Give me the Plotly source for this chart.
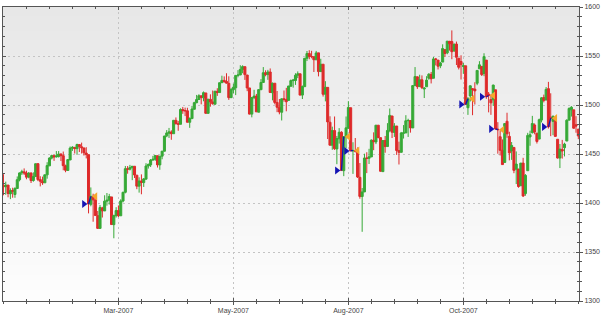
import plotly.graph_objects as go

# ---------------- data (S&P-style daily bars, one per trading day) ----------------
tick_positions = [50, 100, 150, 200]
tick_labels = ["Mar-2007", "May-2007", "Aug-2007", "Oct-2007"]

opens = [
    # Jan
    1418.0, 1416.6, 1418.3, 1409.3, 1412.8, 1408.7, 1414.8, 1423.8, 1430.7, 1431.8,
    1430.6, 1426.4, 1430.5, 1422.95, 1427.0, 1440.1, 1423.9, 1422.0, 1420.6, 1428.7,
    # Feb
    1437.9, 1445.9, 1448.3, 1447.0, 1447.4, 1449.99, 1448.3, 1438.0, 1433.2, 1443.9,
    1455.99, 1456.8, 1455.5, 1459.6, 1457.3, 1456.2, 1451.0, 1449.3, 1398.6,
    # Mar
    1406.8, 1403.2, 1387.1, 1374.1, 1395.0, 1391.9, 1401.9, 1402.8, 1406.2, 1377.9,
    1387.1, 1392.3, 1386.95, 1402.0, 1410.9, 1435.0, 1434.5, 1436.1, 1437.5, 1428.4,
    1417.2, 1422.5,
    # Apr
    1420.8, 1424.3, 1437.75, 1438.9, 1443.8, 1444.6, 1448.2, 1438.9, 1447.8, 1452.8,
    1468.5, 1471.3, 1472.5, 1470.7, 1484.3, 1480.9, 1480.3, 1495.3, 1494.2, 1494.1,
    # May
    1482.4, 1486.1, 1495.6, 1502.35, 1505.6, 1509.4, 1507.3, 1512.3, 1491.5, 1505.8,
    1503.1, 1500.8, 1514.0, 1512.7, 1522.75, 1525.1, 1524.1, 1522.1, 1507.5, 1515.55,
    1517.6, 1530.2,
    # Jun
    1530.6, 1536.3, 1539.1, 1530.6, 1517.4, 1490.7, 1507.6, 1509.1, 1492.65, 1515.6,
    1522.97, 1532.9, 1531.0, 1533.7, 1512.5, 1522.2, 1502.6, 1497.7, 1492.6, 1506.3,
    1505.7,
    # Jul
    1504.7, 1519.1, 1524.9, 1524.96, 1530.4, 1531.85, 1510.1, 1518.7, 1547.7, 1552.5,
    1549.5, 1549.2, 1546.1, 1553.2, 1534.1, 1541.6, 1511.0, 1518.0, 1482.4, 1458.9,
    1473.9,
    # Aug
    1455.2, 1465.5, 1472.2, 1433.0, 1467.6, 1476.2, 1497.2, 1453.1, 1453.4, 1452.9,
    1426.2, 1406.6, 1411.3, 1445.9, 1445.6, 1447.0, 1464.05, 1462.3, 1479.4, 1466.7,
    1432.0, 1463.7, 1457.6,
    # Sep
    1473.96, 1488.8, 1472.0, 1478.55, 1453.5, 1451.7, 1471.1, 1471.5, 1483.95, 1484.2,
    1476.6, 1519.75, 1528.7, 1518.75, 1525.75, 1516.3, 1518.6, 1527.3, 1531.2,
    # Oct
    1527.3, 1546.96, 1545.8, 1539.9, 1543.8, 1556.5, 1553.2, 1564.98, 1564.7, 1555.4,
    1562.25, 1547.8, 1544.4, 1539.3, 1540.0, 1497.2, 1509.3, 1516.6, 1516.2, 1522.2,
    1536.9, 1539.4, 1532.2,
    # Nov
    1545.8, 1511.1, 1505.6, 1505.3, 1515.5, 1475.3, 1467.6, 1453.7, 1441.4, 1483.4,
    1468.0, 1453.1, 1456.7, 1434.5, 1434.7, 1417.6, 1440.7, 1409.6, 1432.95, 1467.4,
    1471.8,
    # Dec
    1479.6, 1471.3, 1465.2, 1484.6, 1507.6, 1505.1, 1516.7, 1487.6, 1483.3, 1486.2,
    1465.05, 1445.9, 1454.7, 1456.4, 1463.2, 1484.55, 1495.1, 1495.05, 1479.8, 1475.25,
]

highs = [
    # Jan
    1429.4, 1421.8, 1418.3, 1414.98, 1415.6, 1415.99, 1427.1, 1431.2, 1433.9, 1435.3,
    1432.96, 1431.6, 1431.4, 1431.3, 1440.1, 1440.7, 1427.3, 1426.9, 1428.8, 1441.6,
    # Feb
    1446.6, 1449.3, 1449.4, 1452.99, 1452.99, 1450.5, 1452.5, 1439.1, 1444.4, 1457.7,
    1457.97, 1456.8, 1460.5, 1459.6, 1461.6, 1456.2, 1456.95, 1449.3, 1415.9,
    # Mar
    1409.5, 1403.4, 1391.9, 1397.9, 1396.1, 1407.9, 1410.2, 1409.3, 1406.2, 1388.1,
    1395.7, 1397.5, 1403.8, 1411.5, 1437.8, 1437.7, 1438.9, 1437.7, 1437.5, 1428.4,
    1426.2, 1429.2,
    # Apr
    1425.5, 1440.6, 1440.2, 1444.9, 1448.1, 1448.7, 1448.4, 1448.0, 1453.1, 1468.6,
    1474.4, 1476.6, 1474.2, 1484.7, 1487.3, 1483.8, 1496.6, 1498.0, 1497.3, 1497.2,
    # May
    1487.3, 1499.1, 1503.3, 1510.3, 1511.0, 1509.4, 1513.8, 1512.3, 1506.2, 1510.9,
    1514.8, 1514.15, 1517.1, 1522.75, 1529.9, 1529.2, 1532.4, 1529.3, 1517.4, 1521.8,
    1530.2, 1535.6,
    # Jun
    1540.6, 1540.5, 1539.1, 1530.6, 1517.4, 1507.8, 1515.5, 1511.3, 1515.7, 1526.45,
    1538.7, 1535.4, 1535.85, 1537.3, 1522.9, 1522.2, 1514.3, 1506.1, 1506.8, 1514.8,
    1517.5,
    # Jul
    1519.45, 1526.0, 1526.6, 1532.4, 1534.3, 1531.85, 1519.9, 1547.9, 1555.1, 1555.9,
    1555.3, 1549.2, 1555.2, 1553.2, 1547.2, 1541.6, 1524.3, 1518.0, 1488.5, 1477.9,
    1488.3,
    # Aug
    1468.4, 1476.4, 1473.2, 1467.7, 1488.3, 1503.9, 1497.2, 1462.0, 1466.3, 1456.7,
    1440.8, 1415.3, 1450.3, 1451.8, 1455.3, 1464.9, 1472.1, 1479.4, 1479.4, 1466.7,
    1463.8, 1468.4, 1481.5,
    # Sep
    1496.4, 1488.8, 1481.5, 1478.55, 1462.6, 1472.5, 1479.5, 1489.6, 1485.99, 1484.2,
    1519.9, 1538.7, 1529.1, 1530.9, 1530.2, 1518.3, 1529.4, 1532.5, 1533.7,
    # Oct
    1549.0, 1548.0, 1545.8, 1544.0, 1561.9, 1556.5, 1565.3, 1565.4, 1576.1, 1563.0,
    1564.7, 1547.8, 1550.7, 1542.8, 1540.0, 1508.1, 1520.0, 1517.2, 1523.2, 1535.5,
    1544.7, 1539.4, 1552.8,
    # Nov
    1545.8, 1513.2, 1510.8, 1520.8, 1515.5, 1482.5, 1474.1, 1464.9, 1481.4, 1492.1,
    1472.7, 1462.2, 1456.7, 1452.6, 1434.7, 1440.9, 1446.1, 1429.5, 1471.6, 1473.8,
    1488.9,
    # Dec
    1481.2, 1471.3, 1486.1, 1508.0, 1510.6, 1518.3, 1523.6, 1511.96, 1489.4, 1486.7,
    1465.05, 1460.2, 1464.4, 1461.5, 1485.4, 1497.6, 1498.85, 1495.05, 1488.6, 1475.8,
]

lows = [
    # Jan
    1407.9, 1408.4, 1405.8, 1403.97, 1405.4, 1405.3, 1414.8, 1422.1, 1428.6, 1428.6,
    1424.2, 1425.2, 1420.4, 1421.7, 1427.0, 1422.3, 1416.96, 1418.5, 1420.6, 1424.8,
    # Feb
    1437.9, 1444.5, 1443.0, 1446.4, 1446.4, 1442.8, 1433.4, 1431.4, 1433.2, 1443.9,
    1453.2, 1450.5, 1449.2, 1452.0, 1450.5, 1448.4, 1445.5, 1389.4, 1396.65,
    # Mar
    1380.9, 1386.9, 1373.97, 1374.1, 1385.2, 1391.9, 1397.3, 1398.4, 1377.7, 1364.0,
    1385.2, 1385.6, 1386.95, 1400.7, 1409.85, 1429.9, 1433.2, 1423.3, 1425.5, 1414.1,
    1410.6, 1408.9,
    # Apr
    1416.4, 1424.3, 1435.1, 1436.7, 1443.3, 1443.0, 1436.2, 1433.9, 1444.6, 1452.8,
    1467.15, 1466.4, 1464.5, 1470.7, 1480.2, 1473.7, 1480.3, 1491.0, 1488.7, 1482.3,
    # May
    1476.7, 1486.1, 1495.6, 1501.8, 1505.5, 1500.7, 1503.8, 1491.4, 1491.5, 1498.3,
    1500.4, 1500.8, 1509.3, 1512.7, 1522.7, 1522.6, 1521.9, 1505.2, 1507.5, 1512.0,
    1510.1, 1528.3,
    # Jun
    1530.6, 1532.4, 1525.6, 1514.1, 1490.4, 1487.4, 1506.0, 1492.97, 1492.65, 1515.6,
    1522.97, 1529.3, 1525.7, 1512.4, 1504.75, 1500.7, 1492.7, 1490.5, 1484.2, 1503.4,
    1493.6,
    # Jul
    1504.7, 1519.1, 1517.7, 1520.5, 1527.45, 1510.0, 1506.1, 1518.7, 1544.85, 1546.7,
    1547.7, 1533.7, 1546.1, 1529.2, 1534.1, 1508.6, 1503.7, 1465.3, 1458.95, 1454.3,
    1454.25,
    # Aug
    1439.6, 1460.6, 1432.8, 1427.4, 1455.8, 1476.2, 1453.1, 1429.7, 1451.5, 1425.5,
    1404.4, 1370.6, 1411.3, 1430.5, 1439.8, 1447.0, 1453.9, 1460.1, 1465.98, 1432.0,
    1432.0, 1451.3, 1457.6,
    # Sep
    1472.2, 1466.3, 1467.4, 1449.1, 1439.3, 1451.7, 1465.75, 1471.5, 1467.4, 1471.8,
    1476.6, 1519.75, 1516.4, 1518.75, 1516.2, 1507.1, 1518.6, 1525.8, 1521.99,
    # Oct
    1527.25, 1540.4, 1536.3, 1537.6, 1543.8, 1549.0, 1551.8, 1555.5, 1546.7, 1554.1,
    1540.8, 1536.3, 1526.0, 1531.8, 1500.3, 1489.9, 1503.6, 1489.6, 1500.5, 1520.2,
    1536.9, 1529.6, 1529.4,
    # Nov
    1506.3, 1492.5, 1489.95, 1499.1, 1475.0, 1450.3, 1448.5, 1439.1, 1441.4, 1466.5,
    1443.5, 1443.99, 1430.4, 1419.3, 1415.6, 1417.6, 1406.1, 1407.4, 1432.95, 1458.4,
    1470.9,
    # Dec
    1470.1, 1460.7, 1465.2, 1482.2, 1502.7, 1504.96, 1475.99, 1468.2, 1469.2, 1467.8,
    1445.4, 1435.65, 1445.3, 1447.5, 1463.2, 1484.55, 1488.2, 1475.9, 1471.7, 1465.1,
]

closes = [
    # Jan
    1416.6, 1418.3, 1409.7, 1412.8, 1412.1, 1414.9, 1423.8, 1430.7, 1431.9, 1430.6,
    1426.4, 1430.5, 1422.9, 1427.0, 1440.1, 1423.9, 1422.2, 1420.6, 1428.8, 1438.2,
    # Feb
    1445.9, 1448.4, 1447.0, 1448.0, 1450.0, 1448.3, 1438.1, 1433.4, 1444.3, 1456.0,
    1456.8, 1455.5, 1459.7, 1457.6, 1456.4, 1451.2, 1449.4, 1399.0, 1406.8,
    # Mar
    1403.2, 1387.2, 1374.1, 1395.4, 1392.0, 1401.9, 1402.8, 1406.6, 1378.0, 1387.2,
    1392.3, 1386.95, 1402.1, 1410.9, 1435.0, 1434.5, 1436.1, 1437.5, 1428.6, 1417.2,
    1422.5, 1420.9,
    # Apr
    1424.6, 1437.8, 1439.4, 1443.8, 1444.6, 1448.4, 1438.9, 1447.8, 1452.9, 1468.3,
    1471.5, 1472.5, 1470.7, 1484.4, 1480.9, 1480.4, 1495.4, 1494.2, 1494.1, 1482.4,
    # May
    1486.3, 1495.9, 1502.4, 1505.6, 1509.5, 1507.7, 1512.6, 1491.5, 1505.9, 1503.2,
    1501.2, 1514.1, 1512.75, 1522.75, 1525.1, 1524.1, 1522.3, 1507.5, 1515.7, 1518.1,
    1530.2, 1530.6,
    # Jun
    1536.3, 1539.2, 1531.0, 1517.4, 1490.7, 1507.7, 1509.1, 1493.0, 1515.7, 1522.97,
    1532.9, 1531.05, 1533.7, 1512.8, 1522.2, 1502.6, 1497.7, 1492.9, 1506.3, 1505.7,
    1503.35,
    # Jul
    1519.4, 1524.9, 1525.4, 1530.4, 1531.85, 1510.1, 1518.8, 1547.7, 1552.5, 1549.5,
    1549.4, 1546.2, 1553.1, 1534.1, 1541.6, 1511.0, 1518.1, 1482.7, 1459.0, 1473.9,
    1455.3,
    # Aug
    1465.8, 1472.2, 1433.1, 1467.7, 1476.7, 1497.5, 1453.1, 1453.6, 1452.9, 1426.5,
    1406.7, 1411.3, 1445.9, 1445.6, 1447.1, 1464.1, 1462.5, 1479.4, 1466.8, 1432.4,
    1463.8, 1457.6, 1474.0,
    # Sep
    1489.4, 1472.3, 1478.55, 1453.55, 1451.7, 1471.5, 1471.6, 1483.95, 1484.25, 1476.65,
    1519.8, 1529.0, 1518.75, 1525.75, 1517.7, 1517.2, 1525.4, 1531.4, 1526.75,
    # Oct
    1547.0, 1546.6, 1539.6, 1542.8, 1557.6, 1552.6, 1565.15, 1562.5, 1554.4, 1561.8,
    1548.7, 1538.5, 1541.2, 1540.1, 1500.6, 1506.3, 1519.6, 1515.9, 1514.4, 1535.3,
    1541.0, 1531.0, 1549.4,
    # Nov
    1508.4, 1509.65, 1502.2, 1520.3, 1475.6, 1474.8, 1453.7, 1439.2, 1481.05, 1470.6,
    1451.15, 1458.7, 1433.3, 1439.7, 1416.8, 1440.7, 1407.2, 1428.2, 1469.0, 1469.7,
    1481.1,
    # Dec
    1472.4, 1462.8, 1485.0, 1507.3, 1504.7, 1515.96, 1477.65, 1486.6, 1488.4, 1467.95,
    1445.9, 1454.98, 1453.0, 1460.1, 1484.5, 1496.45, 1497.7, 1476.3, 1478.5, 1468.4,
]

# trade signals: bar index of entry (blue) and exit (orange)
entry_idx = [37, 147, 151, 201, 210, 214, 237]
exit_idx = [38, 148, 152, 202, 211, 215, 238]

# ---------------- styling ----------------
UP = "#36a936"
DOWN = "#de2a2a"
BLUE = "#1414b4"
ORANGE = "#f5a62c"
AXIS = "#555555"
GRID = "#c4c4c4"
MARK_OFF = 2.0

bars = list(range(len(closes)))
X_RANGE = [-0.2, 250.3]
Y_RANGE = [1300, 1600]

fig = go.Figure()

fig.add_trace(go.Candlestick(
    x=bars, open=opens, high=highs, low=lows, close=closes,
    increasing=dict(line=dict(color=UP, width=1), fillcolor=UP),
    decreasing=dict(line=dict(color=DOWN, width=1), fillcolor=DOWN),
    whiskerwidth=0, showlegend=False, hoverinfo="skip",
    xaxis="x", yaxis="y",
))

lx, ly = [], []
for e, x in zip(entry_idx, exit_idx):
    lx += [e, x, None]
    ly += [closes[e], closes[x], None]
fig.add_trace(go.Scatter(x=lx, y=ly, mode="lines", line=dict(color=BLUE, width=1.3),
                         showlegend=False, hoverinfo="skip", xaxis="x2", yaxis="y2"))
fig.add_trace(go.Scatter(x=[e - MARK_OFF for e in entry_idx], y=[closes[e] for e in entry_idx],
                         mode="markers", marker=dict(symbol="triangle-right", size=7, color=BLUE),
                         showlegend=False, hoverinfo="skip", xaxis="x2", yaxis="y2"))
fig.add_trace(go.Scatter(x=[x + MARK_OFF for x in exit_idx], y=[closes[x] for x in exit_idx],
                         mode="markers", marker=dict(symbol="triangle-left", size=7, color=ORANGE),
                         showlegend=False, hoverinfo="skip", xaxis="x2", yaxis="y2"))

# gradient plot background
shapes = []
n_bands = 60
top_c, bot_c = 231, 253
for k in range(n_bands):
    c = int(round(top_c + (bot_c - top_c) * k / (n_bands - 1)))
    shapes.append(dict(type="rect", xref="x domain", yref="y domain",
                       x0=0, x1=1, y0=1 - (k + 1) / n_bands, y1=min(1, 1 - k / n_bands + 0.004),
                       fillcolor=f"rgb({c},{c},{c})", line=dict(width=0), layer="below"))

tickfont = dict(family="Liberation Sans, Arial, sans-serif", size=7, color="#444444")

fig.update_layout(
    width=610, height=318,
    margin=dict(l=3, r=31, t=7, b=13),
    paper_bgcolor="white", plot_bgcolor="white",
    showlegend=False, hovermode=False,
    shapes=shapes,
    boxgap=0.12, boxgroupgap=0,
    xaxis=dict(
        range=X_RANGE, tickmode="array", tickvals=tick_positions, ticktext=tick_labels,
        ticks="outside", ticklen=3, tickwidth=1, tickcolor=AXIS,
        showline=True, linecolor=AXIS, linewidth=1,
        showgrid=True, gridcolor=GRID, griddash="2px,3px", gridwidth=1,
        zeroline=False, tickfont=tickfont,
        minor=dict(tickmode="linear", tick0=0, dtick=10, ticks="outside", ticklen=2,
                   tickcolor=AXIS, showgrid=False),
        rangeslider=dict(visible=False), fixedrange=True,
    ),
    xaxis2=dict(
        overlaying="x", anchor="y2", side="bottom", range=X_RANGE,
        tickmode="array", tickvals=tick_positions, ticks="inside", ticklen=3,
        tickcolor=AXIS, showticklabels=False, showline=True, linecolor=AXIS,
        mirror="allticks", showgrid=False, zeroline=False,
        minor=dict(tickmode="linear", tick0=0, dtick=10, ticks="inside", ticklen=2,
                   tickcolor=AXIS, showgrid=False),
        fixedrange=True,
    ),
    yaxis=dict(
        range=Y_RANGE, side="right", tickmode="linear", tick0=1300, dtick=50,
        ticks="outside", ticklen=3, tickcolor=AXIS,
        showline=True, linecolor=AXIS, linewidth=1,
        showgrid=True, gridcolor=GRID, griddash="2px,3px", gridwidth=1,
        zeroline=False, tickfont=tickfont,
        minor=dict(tickmode="linear", tick0=1300, dtick=10, ticks="outside", ticklen=2,
                   tickcolor=AXIS, showgrid=False),
        fixedrange=True,
    ),
    yaxis2=dict(
        overlaying="y", anchor="x2", side="left", range=Y_RANGE,
        tickmode="linear", tick0=1300, dtick=50, ticks="inside", ticklen=3,
        tickcolor=AXIS, showticklabels=False, showline=True, linecolor=AXIS,
        mirror="allticks", showgrid=False, zeroline=False,
        minor=dict(tickmode="linear", tick0=1300, dtick=10, ticks="inside", ticklen=2,
                   tickcolor=AXIS, showgrid=False),
        fixedrange=True,
    ),
)

fig.write_html("out.html")
